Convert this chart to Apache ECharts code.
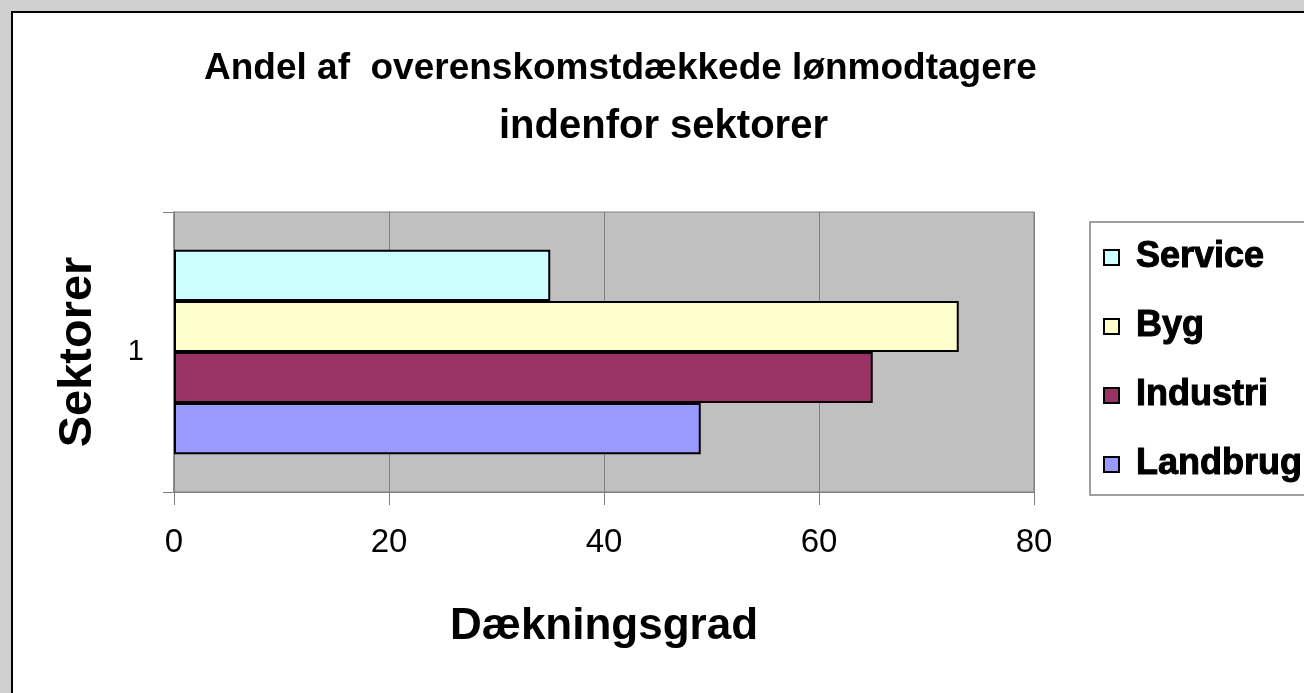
<!DOCTYPE html>
<html>
<head>
<meta charset="utf-8">
<script src="https://cdn.jsdelivr.net/npm/echarts@6/dist/echarts.min.js"></script>
<style>
html,body{margin:0;padding:0;background:#d0d0d0;}
#chart{width:1304px;height:693px;}
</style>
</head>
<body>
<div id="chart"></div>
<script>
var categories = ['1'];
var seriesNames = ['Service', 'Byg', 'Industri', 'Landbrug'];
var landbrug = [49];
var industri = [65];
var byg = [73];
var service = [35];
var xTicks = [0, 20, 40, 60, 80];
var legendOrder = ['Service', 'Byg', 'Industri', 'Landbrug'];
var colors = {Landbrug: '#9999ff', Industri: '#993366', Byg: '#ffffcc', Service: '#ccffff'};
var values = {Landbrug: landbrug, Industri: industri, Byg: byg, Service: service};

var chart = echarts.init(document.getElementById('chart'));
var font = '"Liberation Sans", Arial, sans-serif';
chart.setOption({
  backgroundColor: '#d0d0d0',
  animation: false,
  graphic: [{
    type: 'rect', z: -10, silent: true,
    shape: {x: 12, y: 12, width: 1400, height: 800},
    style: {fill: '#ffffff', stroke: '#000000', lineWidth: 2}
  }],
  title: [{
    text: 'Andel af  overenskomstdækkede lønmodtagere',
    left: 199, top: 45,
    textStyle: {fontFamily: font, fontWeight: 'bold', fontSize: 37, color: '#000'}
  }, {
    text: 'indenfor sektorer',
    left: 494, top: 102,
    textStyle: {fontFamily: font, fontWeight: 'bold', fontSize: 40, color: '#000'}
  }],
  legend: {
    orient: 'vertical',
    left: 1090, top: 222,
    data: legendOrder,
    backgroundColor: '#ffffff',
    borderColor: '#808080', borderWidth: 1.5,
    padding: [17, 40, 12, 13],
    itemGap: 32,
    itemWidth: 15, itemHeight: 15,
    icon: 'rect',
    textStyle: {fontFamily: font, fontWeight: 'bold', fontSize: 36, color: '#000',
      textBorderColor: '#000', textBorderWidth: 1, padding: [0, 0, 0, 12]}
  },
  grid: {
    left: 174, right: 270, top: 212, bottom: 201,
    show: true, backgroundColor: '#c0c0c0', borderColor: '#808080', borderWidth: 1
  },
  xAxis: {
    type: 'value', min: 0, max: 80, interval: 20,
    name: 'Dækningsgrad', nameLocation: 'middle', nameGap: 113,
    nameTextStyle: {fontFamily: font, fontWeight: 'bold', fontSize: 44, color: '#000'},
    axisLine: {show: true, lineStyle: {color: '#808080', width: 1}},
    axisTick: {show: true, length: 13, lineStyle: {color: '#808080'}},
    splitLine: {show: true, lineStyle: {color: '#808080', width: 1}},
    axisLabel: {margin: 34, fontFamily: font, fontSize: 33, color: '#000',
      formatter: function (v) { return xTicks.indexOf(v) >= 0 ? String(v) : ''; }}
  },
  yAxis: {
    type: 'category', data: categories,
    name: 'Sektorer', nameLocation: 'middle', nameGap: 72, nameRotate: 90,
    nameTextStyle: {fontFamily: font, fontWeight: 'bold', fontSize: 47, color: '#000'},
    axisLine: {show: true, lineStyle: {color: '#808080', width: 1.5}},
    axisTick: {show: true, length: 11, lineStyle: {color: '#808080'}},
    axisLabel: {margin: 30, fontFamily: font, fontSize: 29, color: '#000'}
  },
  series: seriesNames.map(function (n) {
    return {
      name: n, type: 'bar', data: values[n],
      barGap: '0%', barCategoryGap: '27%',
      itemStyle: {color: colors[n], borderColor: '#000', borderWidth: 2}
    };
  })
});
</script>
</body>
</html>
